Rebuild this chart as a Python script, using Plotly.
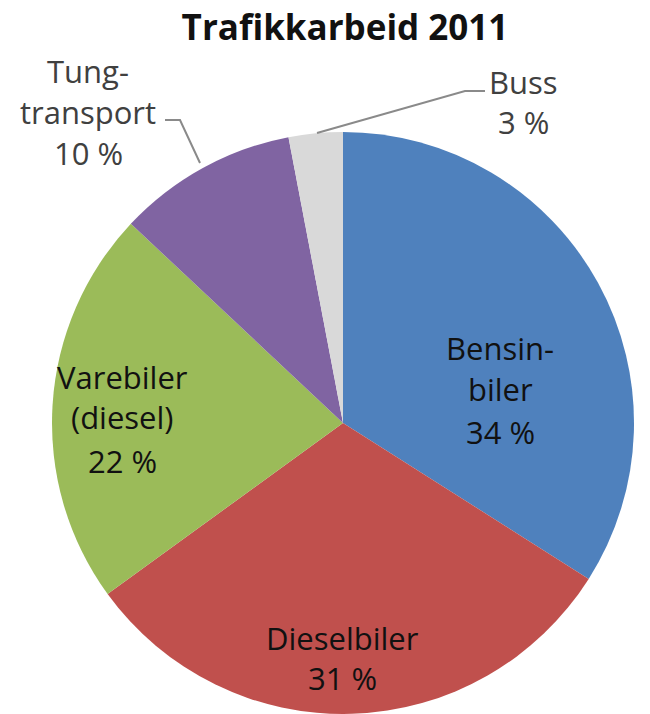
import plotly.graph_objects as go

W, H = 650, 714

categories = ["Bensinbiler", "Dieselbiler", "Varebiler (diesel)", "Tungtransport", "Buss"]
values = [34, 31, 22, 10, 3]
colors = ["#4F81BD", "#C0504D", "#9BBB59", "#8064A2", "#D9D9D9"]

# label lines per slice (text shown on chart)
label_lines = {
    "Bensinbiler": ["Bensin-", "biler"],
    "Dieselbiler": ["Dieselbiler"],
    "Varebiler (diesel)": ["Varebiler", "(diesel)"],
    "Tungtransport": ["Tung-", "transport"],
    "Buss": ["Buss"],
}


def px(x, y):
    return x / W, 1 - y / H


# pie geometry (pixels)
cx, cy, r = 343, 423, 291

fig = go.Figure(go.Pie(
    labels=categories,
    values=values,
    sort=False,
    direction="clockwise",
    rotation=0,
    marker=dict(colors=colors, line=dict(width=0)),
    textinfo="none",
    hoverinfo="label+percent",
    showlegend=False,
    domain=dict(x=[(cx - r) / W, (cx + r) / W], y=[max(0, 1 - (cy + r) / H), 1 - (cy - r) / H]),
))

# label line pixel positions (layout only)
label_pos = {
    "Bensinbiler": (500, [348, 389, 432]),
    "Dieselbiler": (342, [638, 678]),
    "Varebiler (diesel)": (122, [377, 417, 461]),
    "Tungtransport": (88, [71, 112, 153]),
    "Buss": (523, [82, 122]),
}
inside = {"Bensinbiler", "Dieselbiler", "Varebiler (diesel)"}

annotations = []
for cat, val in zip(categories, values):
    lines = label_lines[cat] + [f"{val} %"]
    x, ys = label_pos[cat]
    col = "#111111" if cat in inside else "#404040"
    for line, y in zip(lines, ys):
        ax, ay = px(x, y)
        annotations.append(dict(
            x=ax, y=ay, xref="paper", yref="paper", text=line, showarrow=False,
            xanchor="center", yanchor="middle",
            font=dict(family="Open Sans", size=31, color=col),
        ))


def path(points):
    pts = [px(x, y) for x, y in points]
    return "M " + " L ".join(f"{a},{b}" for a, b in pts)


shapes = [
    dict(type="path", xref="paper", yref="paper",
         path=path([(165, 120), (180, 120), (200, 163)]),
         line=dict(color="#8a8a8a", width=2)),
    dict(type="path", xref="paper", yref="paper",
         path=path([(485, 91), (465, 91), (317, 133)]),
         line=dict(color="#8a8a8a", width=2)),
]

fig.update_layout(
    width=W, height=H,
    margin=dict(l=0, r=0, t=0, b=0),
    paper_bgcolor="white",
    plot_bgcolor="white",
    title=dict(text="<b>Trafikkarbeid 2011</b>", x=345 / W, y=1 - 28 / H,
               xanchor="center", yanchor="middle",
               font=dict(family="Open Sans", size=35, color="#111111")),
    annotations=annotations,
    shapes=shapes,
)

fig.write_html("out.html", config={"displayModeBar": False},
               post_script="document.body.style.margin='0px';")
